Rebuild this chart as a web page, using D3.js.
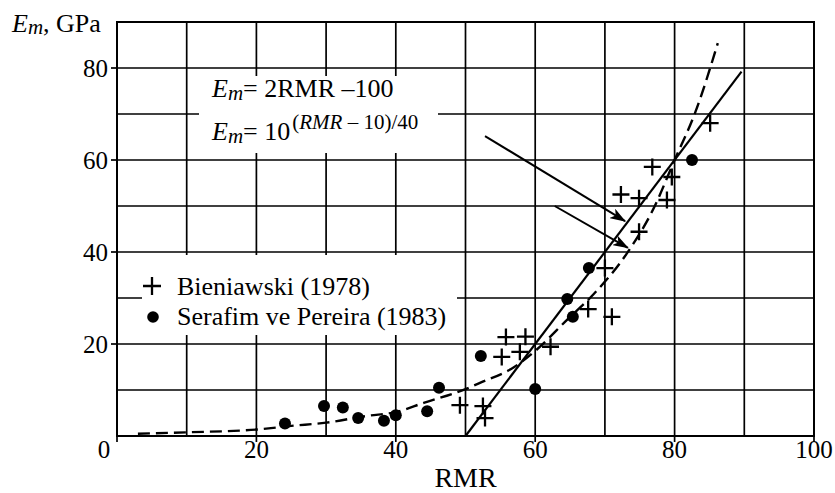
<!DOCTYPE html>
<html>
<head>
<meta charset="utf-8">
<script src="https://cdn.jsdelivr.net/npm/d3@7"></script>
<style>
  html, body { margin: 0; padding: 0; background: #fff; }
  svg { display: block; font-family: "Liberation Serif", "Times New Roman", serif; }
</style>
</head>
<body>
<div id="chart"></div>
<script>
// values
const xTicks = [0, 20, 40, 60, 80, 100];
const yTicks = [20, 40, 60, 80];
const gridX = [10, 20, 30, 40, 50, 60, 70, 80, 90];
const gridY = [10, 20, 30, 40, 50, 60, 70, 80];

// Bieniawski (1978) — crosses
const bieniawski = [
  [49.2, 6.7], [52.5, 6.5], [52.8, 3.9], [55.2, 17.2], [55.8, 21.5],
  [57.8, 18.3], [58.6, 21.6], [62.2, 19.4], [67.6, 27.6], [71.0, 25.9],
  [70.0, 36.5], [72.3, 52.5], [74.9, 51.7], [74.9, 44.4], [76.8, 58.5],
  [78.9, 51.3], [79.6, 56.3], [85.1, 68.0]
];
// Serafim ve Pereira (1983) — dots
const serafim = [
  [24.1, 2.7], [29.7, 6.5], [32.4, 6.2], [34.6, 3.9], [38.3, 3.3],
  [40.0, 4.5], [44.5, 5.4], [46.2, 10.5], [52.2, 17.4], [60.0, 10.2],
  [64.6, 29.8], [65.4, 25.9], [67.7, 36.5], [82.5, 60.0]
];
// Em = 2RMR - 100 (solid), end points as drawn
const linearFit = [[50, 0], [89.6, 79.2]];
// Em = 10^((RMR-10)/40) (dashed), traced points
const expFit = [
  [3, 0.5], [10, 0.8], [20, 1.4], [25, 2.2], [30, 2.9], [36, 4.4], [40, 5.2],
  [44, 7.2], [50, 10.2], [52, 11.5], [57, 15], [60, 18.5], [64.6, 25.3],
  [68.3, 30.7], [73.2, 39.8], [77, 49.5], [80, 60], [83, 70.5], [86.2, 85.4]
];
// arrows from the equations to the curves
const arrows = [
  [[52.8, 65.2], [72.9, 46.7]],
  [[62.8, 50.0], [73.3, 40.9]]
];

const W = 835, H = 493;
const margin = { top: 22, right: 21, bottom: 57, left: 117 };

const x = d3.scaleLinear().domain([0, 100]).range([margin.left, W - margin.right]);
const y = d3.scaleLinear().domain([0, 90]).range([H - margin.bottom, margin.top]);

const svg = d3.select('#chart').append('svg')
  .attr('width', W).attr('height', H)
  .attr('viewBox', `0 0 ${W} ${H}`);

svg.append('defs').append('marker')
  .attr('id', 'head').attr('viewBox', '0 0 16 11')
  .attr('refX', 15).attr('refY', 5.5)
  .attr('markerWidth', 16).attr('markerHeight', 11)
  .attr('markerUnits', 'userSpaceOnUse').attr('orient', 'auto')
  .append('path').attr('d', 'M0,0 L16,5.5 L0,11 L4,5.5 Z').attr('fill', '#000');

// grid
const grid = svg.append('g').attr('stroke', '#000').attr('stroke-width', 1.7);
grid.selectAll('line.gx').data(gridX).join('line').attr('class', 'gx')
  .attr('x1', d => x(d)).attr('x2', d => x(d))
  .attr('y1', y(0)).attr('y2', y(90));
grid.selectAll('line.gy').data(gridY).join('line').attr('class', 'gy')
  .attr('y1', d => y(d)).attr('y2', d => y(d))
  .attr('x1', x(0)).attr('x2', x(100));

// ticks outside the frame
grid.selectAll('line.tx').data(xTicks).join('line').attr('class', 'tx')
  .attr('x1', d => x(d)).attr('x2', d => x(d))
  .attr('y1', y(0)).attr('y2', y(0) + 6);
grid.selectAll('line.ty').data(yTicks).join('line').attr('class', 'ty')
  .attr('y1', d => y(d)).attr('y2', d => y(d))
  .attr('x1', x(0) - 6).attr('x2', x(0));

// frame
svg.append('rect')
  .attr('x', x(0)).attr('y', y(90))
  .attr('width', x(100) - x(0)).attr('height', y(0) - y(90))
  .attr('fill', 'none').attr('stroke', '#000').attr('stroke-width', 2);

// white boxes behind equations and legend
svg.append('rect').attr('x', 199).attr('y', 76).attr('width', 239).attr('height', 77).attr('fill', '#fff');
svg.append('rect').attr('x', 142).attr('y', 255).attr('width', 315).attr('height', 80).attr('fill', '#fff');

const line = d3.line().x(d => x(d[0])).y(d => y(d[1]));

svg.append('path').datum(expFit)
  .attr('d', line.curve(d3.curveMonotoneX))
  .attr('fill', 'none').attr('stroke', '#000')
  .attr('stroke-width', 2.4).attr('stroke-dasharray', '12 6');

svg.append('path').datum(linearFit)
  .attr('d', d3.line().x(d => x(d[0])).y(d => y(d[1])))
  .attr('fill', 'none').attr('stroke', '#000').attr('stroke-width', 2.2);

// arrows
svg.selectAll('line.arrow').data(arrows).join('line').attr('class', 'arrow')
  .attr('x1', d => x(d[0][0])).attr('y1', d => y(d[0][1]))
  .attr('x2', d => x(d[1][0])).attr('y2', d => y(d[1][1]))
  .attr('stroke', '#000').attr('stroke-width', 2)
  .attr('marker-end', 'url(#head)');

// points
const cross = 8.5;
svg.append('g').selectAll('path').data(bieniawski).join('path')
  .attr('d', d => `M${x(d[0]) - cross},${y(d[1])}h${2 * cross}M${x(d[0])},${y(d[1]) - cross}v${2 * cross}`)
  .attr('stroke', '#000').attr('stroke-width', 2.3).attr('fill', 'none');

svg.append('g').selectAll('circle').data(serafim).join('circle')
  .attr('cx', d => x(d[0])).attr('cy', d => y(d[1])).attr('r', 6)
  .attr('fill', '#000');

// tick labels
svg.append('g').selectAll('text').data(xTicks).join('text')
  .attr('x', d => d === 0 ? x(d) - 13 : x(d)).attr('y', 458)
  .attr('text-anchor', 'middle').attr('font-size', 25)
  .text(d => d);

svg.append('g').selectAll('text').data(yTicks).join('text')
  .attr('x', x(0) - 9).attr('y', d => y(d)).attr('dy', '0.35em')
  .attr('text-anchor', 'end').attr('font-size', 25)
  .text(d => d);

svg.append('text').attr('x', (x(0) + x(100)) / 2).attr('y', 487)
  .attr('text-anchor', 'middle').attr('font-size', 28).text('RMR');

const yl = svg.append('text').attr('x', 12).attr('y', 32).attr('font-size', 26);
yl.append('tspan').attr('font-style', 'italic').text('E');
yl.append('tspan').attr('font-style', 'italic').attr('font-size', 21).attr('dy', 2).text('m');
yl.append('tspan').attr('dy', -2).text(', GPa');

// equations
const eq1 = svg.append('text').attr('x', 212).attr('y', 97).attr('font-size', 26);
eq1.append('tspan').attr('font-style', 'italic').text('E');
eq1.append('tspan').attr('font-style', 'italic').attr('font-size', 21).attr('dy', 3).text('m');
eq1.append('tspan').attr('dy', -3).text('= 2RMR –100');

const eq2 = svg.append('text').attr('x', 212).attr('y', 140).attr('font-size', 26);
eq2.append('tspan').attr('font-style', 'italic').text('E');
eq2.append('tspan').attr('font-style', 'italic').attr('font-size', 21).attr('dy', 3).text('m');
eq2.append('tspan').attr('dy', -3).text('= 10');
eq2.append('tspan').attr('font-size', 21).attr('dy', -11).attr('dx', 2).text('(');
eq2.append('tspan').attr('font-size', 21).attr('font-style', 'italic').text('RMR');
eq2.append('tspan').attr('font-size', 21).text(' – 10)/40');

// legend
svg.append('path')
  .attr('d', `M${152 - 9},286h18M152,${286 - 9}v18`)
  .attr('stroke', '#000').attr('stroke-width', 2.3);
svg.append('circle').attr('cx', 153).attr('cy', 317).attr('r', 5.8).attr('fill', '#000');
svg.append('text').attr('x', 177).attr('y', 295).attr('font-size', 26).text('Bieniawski (1978)');
svg.append('text').attr('x', 177).attr('y', 325).attr('font-size', 26).text('Serafim ve Pereira (1983)');
</script>
</body>
</html>
